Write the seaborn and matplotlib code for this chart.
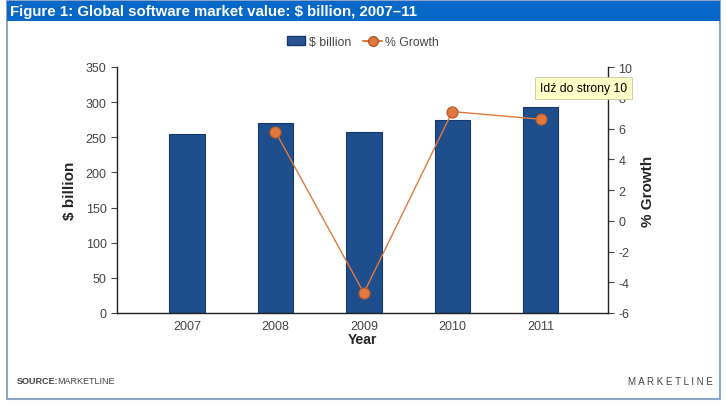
import matplotlib
matplotlib.use("Agg")
import matplotlib.pyplot as plt
import seaborn as sns
import pandas as pd
from matplotlib.patches import Rectangle
from matplotlib.lines import Line2D
from matplotlib.patches import Patch

years = ["2007", "2008", "2009", "2010", "2011"]
billion = [254.1, 270.3, 257.0, 275.0, 293.5]
growth_years = ["2008", "2009", "2010", "2011"]
growth = [5.8, -4.7, 7.1, 6.6]

title = "Figure 1: Global software market value: $ billion, 2007\u201311"
left_ticks = [0, 50, 100, 150, 200, 250, 300, 350]
right_ticks = [-6, -4, -2, 0, 2, 4, 6, 8, 10]

sns.set_style("white")
plt.rcParams['font.family'] = ['Liberation Sans', 'DejaVu Sans']
plt.rcParams['axes.unicode_minus'] = False

W, H = 726, 406
fig = plt.figure(figsize=(W / 100, H / 100), dpi=100, facecolor="white")

# frame and title bar
fig.patches.append(Rectangle((7 / W, 1 - 400 / H), 713 / W, 398 / H, transform=fig.transFigure,
                             facecolor="none", edgecolor="#8ba6c8", lw=1.5, zorder=-1))
fig.patches.append(Rectangle((7 / W, 1 - 22 / H), 713 / W, 20 / H, transform=fig.transFigure,
                             facecolor="#0868c8", edgecolor="none", zorder=1))
fig.text(10 / W, 1 - 12 / H, title, color="white", fontsize=10.8, fontweight="bold",
         va="center", ha="left")

ax = fig.add_axes([117 / W, 1 - 314 / H, (608 - 117) / W, (314 - 68) / H])
df = pd.DataFrame({"year": years, "billion": billion})
sns.barplot(data=df, x="year", y="billion", ax=ax, color="#1f4e8c", width=0.4,
            edgecolor="#16386a", linewidth=0.8, saturation=1)
ax.set_ylim(0, 350)
ax.set_yticks(left_ticks)
ax.set_xlim(-0.79, 4.76)
ax.set_xlabel("Year", fontsize=10, fontweight="bold", labelpad=0)
ax.set_ylabel("$ billion", fontsize=11, fontweight="bold", labelpad=6)
ax.tick_params(axis="both", labelsize=9, colors="#444444", length=4, width=0.8)
ax.tick_params(axis="x", length=0, pad=5)
for s in ["top", "right"]:
    ax.spines[s].set_visible(False)
for s in ["left", "bottom"]:
    ax.spines[s].set_color("#222222")
    ax.spines[s].set_linewidth(1)

ax2 = ax.twinx()
gx = [years.index(y) for y in growth_years]
sns.lineplot(x=gx, y=growth, ax=ax2, color="#e07840", linewidth=1, marker="o",
             markersize=8, markerfacecolor="#e07840", markeredgecolor="#b05a2a",
             markeredgewidth=0.8)
ax2.set_ylim(-6, 10)
ax2.set_yticks(right_ticks)
ax2.set_xlim(-0.79, 4.76)
ax2.set_ylabel("% Growth", fontsize=11, fontweight="bold", labelpad=6)
ax2.tick_params(axis="y", labelsize=9, colors="#444444", length=4, width=0.8)
for s in ["top", "left", "bottom"]:
    ax2.spines[s].set_visible(False)
ax2.spines["right"].set_color("#222222")
ax2.spines["right"].set_linewidth(1)

handles = [Patch(facecolor="#2a5494", edgecolor="#16386a", label="$ billion"),
           Line2D([0], [0], color="#e07840", marker="o", markersize=7,
                  markerfacecolor="#e07840", markeredgecolor="#b05a2a", label="% Growth")]
fig.legend(handles=handles, loc="center", bbox_to_anchor=(363 / W, 1 - 43 / H), ncol=2,
           frameon=False, fontsize=8.8, handlelength=1.5, columnspacing=1.0, handletextpad=0.3,
           labelcolor="#444444")

fig.text(540 / W, 1 - 89 / H, "Id\u017a do strony 10", fontsize=8.8, color="black", va="center",
         ha="left", zorder=10,
         bbox=dict(boxstyle="square,pad=0.4", facecolor="#ffffc8", edgecolor="#c8c8a0", lw=0.6))

fig.text(17 / W, 1 - 382 / H, "SOURCE:", fontsize=6.5, fontweight="bold", color="#444444",
         va="center", ha="left")
fig.text(57 / W, 1 - 382 / H, "MARKETLINE", fontsize=6.5, color="#444444", va="center", ha="left")
fig.text(713 / W, 1 - 382 / H, "M A R K E T L I N E", fontsize=7, color="#444444",
         va="center", ha="right")

fig.savefig("out.png", dpi=100, facecolor="white")
